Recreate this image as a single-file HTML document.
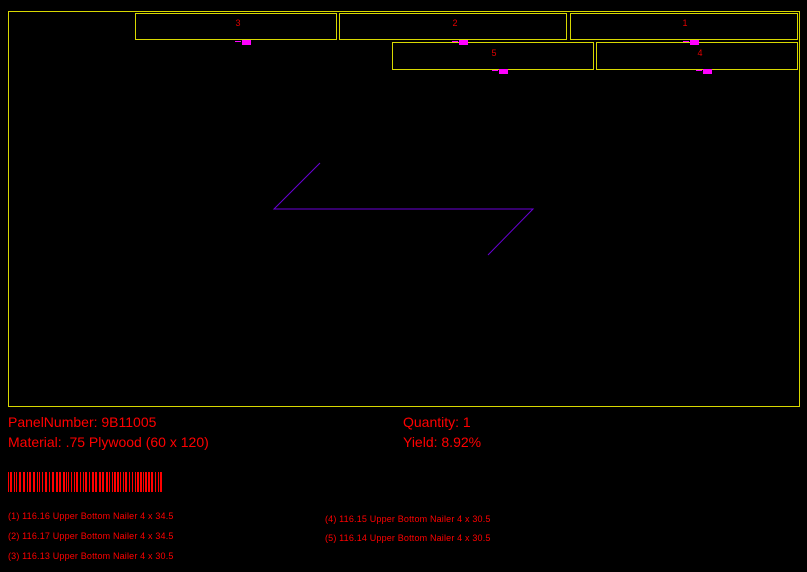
<!DOCTYPE html>
<html><head><style>
body{margin:0;background:#000;width:807px;height:572px;overflow:hidden;position:relative;font-family:"Liberation Sans",sans-serif;color:#f00}
.t{position:absolute;white-space:nowrap}
.s{font-size:9px;letter-spacing:0.17px}
</style></head><body>
<svg width="807" height="572" style="position:absolute;left:0;top:0" xmlns="http://www.w3.org/2000/svg">
<g fill="none" stroke="#d8d800" stroke-width="1">
<rect x="8.5" y="11.5" width="791" height="395"/>
<rect x="135.5" y="13.5" width="201" height="26"/>
<rect x="339.5" y="13.5" width="227" height="26"/>
<rect x="570.5" y="13.5" width="227" height="26"/>
<rect x="392.5" y="42.5" width="201" height="27"/>
<rect x="596.5" y="42.5" width="201" height="27"/>
</g>
<g fill="#f0f" >
<rect x="242" y="40" width="9" height="5"/><rect x="235" y="41" width="6" height="1"/>
<rect x="459" y="40" width="9" height="5"/><rect x="452" y="41" width="6" height="1"/>
<rect x="690" y="40" width="9" height="5"/><rect x="683" y="41" width="6" height="1"/>
<rect x="499" y="69" width="9" height="5"/><rect x="492" y="70" width="6" height="1"/>
<rect x="703" y="69" width="9" height="5"/><rect x="696" y="70" width="6" height="1"/>
</g>
<g fill="#e00000" font-family="Liberation Sans,sans-serif" font-size="9" text-anchor="middle">
<text x="238" y="26">3</text><text x="455" y="26">2</text><text x="685" y="26">1</text>
<text x="494" y="56">5</text><text x="700" y="56">4</text>
</g>
<polyline points="320,163 274,209 533,209 488,255" fill="none" stroke="#6a00d8" stroke-width="1"/>
<g fill="#f00" id="bc"></g>
</svg>
<div class="t" style="left:8px;top:414px;font-size:14px">PanelNumber: 9B11005</div>
<div class="t" style="left:8px;top:434px;font-size:14px">Material: .75 Plywood (60 x 120)</div>
<div class="t" style="left:403px;top:414px;font-size:14px">Quantity: 1</div>
<div class="t" style="left:403px;top:434px;font-size:14px">Yield: 8.92%</div>
<div class="t s" style="left:8px;top:511px">(1) 116.16 Upper Bottom Nailer 4 x 34.5</div>
<div class="t s" style="left:8px;top:531px">(2) 116.17 Upper Bottom Nailer 4 x 34.5</div>
<div class="t s" style="left:8px;top:551px">(3) 116.13 Upper Bottom Nailer 4 x 30.5</div>
<div class="t s" style="left:325px;top:514px">(4) 116.15 Upper Bottom Nailer 4 x 30.5</div>
<div class="t s" style="left:325px;top:533px">(5) 116.14 Upper Bottom Nailer 4 x 30.5</div>
<script>
var g=document.getElementById('bc'),x=8,s=7,h='';
while(x<161){s=(s*1103515245+12345)%2147483648;var w=1+(s>>16)%2;h+='<rect x="'+x+'" y="472" width="'+w+'" height="20"/>';s=(s*1103515245+12345)%2147483648;x+=w+1+(s>>16)%2;}
g.innerHTML=h;
</script>
</body></html>
